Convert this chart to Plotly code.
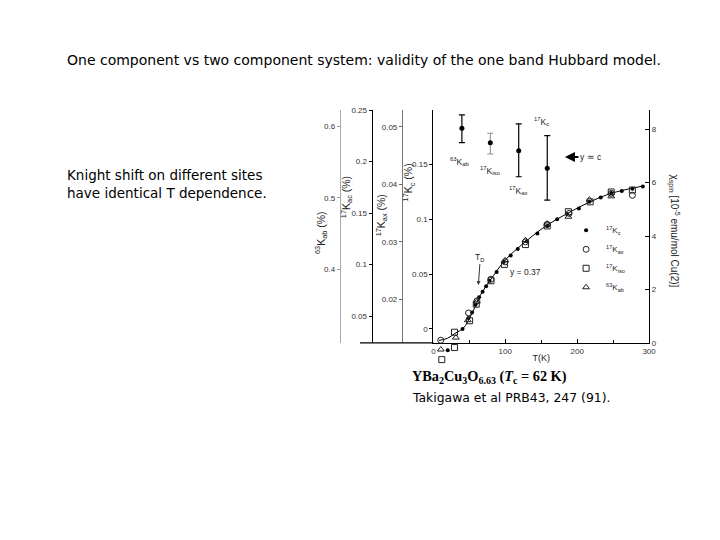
import plotly.graph_objects as go

W, H = 720, 540
# screen position -> figure pixel mapping measured from earlier renders of the page
SHIFT, SCALE = 12.0, 0.982

# ---------------- data (Kc-axis units) ----------------
curve_T = [7.8, 19.6, 30.3, 42.1, 51.3, 60.6, 65.5, 79.2, 100.2, 130.7, 158.4, 186.8, 214.7, 247.2, 291.4]
curve_K = [-0.0105, -0.0085, -0.004, 0.001, 0.011, 0.024, 0.031, 0.0445, 0.063, 0.081,
           0.0948, 0.1055, 0.115, 0.1237, 0.1304]

kc_T = [20, 40.6, 48.9, 53.8, 58.7, 63.6, 68.5, 73.4, 78.2, 88, 97.8, 107.6, 117.4, 130.1,
        144.7, 158.4, 172.1, 185.8, 202.4, 217.1, 232.8, 247.4, 262.1, 276.8, 291.4]
kc_K = [-0.0195, 0.0, 0.010, 0.015, 0.022, 0.029, 0.034, 0.039, 0.044, 0.052, 0.061,
        0.067, 0.073, 0.080, 0.087, 0.094, 0.100, 0.105, 0.110, 0.116, 0.120, 0.124,
        0.126, 0.128, 0.130]

kax_T = [10.3, 48.9, 60.6, 80.2, 99.8, 128.1, 158.4, 188.8, 247.4, 276.8]
kax_K = [-0.0103, 0.0146, 0.0256, 0.0454, 0.0612, 0.0795, 0.0954, 0.1055, 0.1237, 0.122]

kiso_T = [11.7, 29.4, 29.4, 50.4, 59.7, 80.2, 98.8, 128.1, 158.4, 187.8, 218.1, 247.4, 276.8]
kiso_K = [-0.028, -0.003, -0.017, 0.0075, 0.0226, 0.044, 0.0589, 0.077, 0.094, 0.107,
          0.116, 0.125, 0.1268]

kab_T = [10.4, 31.3, 47.9, 60.6, 99.8, 128.1, 158.4, 187.8, 217.1, 247.4]
kab_K = [-0.0188, -0.0079, 0.008, 0.025, 0.0627, 0.081, 0.096, 0.1024, 0.118, 0.121]

err_T = [39.7, 118.7, 158.4]
err_K = [0.1832, 0.1627, 0.1466]
err_plus = [0.0121, 0.0244, 0.0298]
err_minus = [0.0132, 0.0238, 0.029]

err2_T = [79.2]
err2_K = [0.170]
err2_plus = [0.0086]
err2_minus = [0.0103]

x_ticks = [0, 100, 200, 300]
kc_ticks = [0, 0.05, 0.1, 0.15, 0.2]
kc_labels = ["0", "0.05", "0.1", "0.15", "0.2"]
chi_ticks = [0, 2, 4, 6, 8]
kax_ticks = [0.02, 0.03, 0.04, 0.05]
kac_ticks = [0.05, 0.1, 0.15, 0.2, 0.25]
kab_ticks = [0.4, 0.5, 0.6]

# ---------------- layout geometry (screen pixels -> paper) ----------------
def px(x):
    return ((x - SHIFT) / SCALE) / W

def py(y):
    return 1 - ((y - SHIFT) / SCALE) / H

x_dom = [px(433), px(647.5)]
y_dom = [py(342.5), py(110)]
y_dom_ext = [py(362), py(110)]   # same scale, extended below the frame for low-T points

TICKFONT = dict(family="Liberation Sans", size=8, color="#333")
TITLEFONT = dict(family="Liberation Sans", size=10.5, color="#222")

fig = go.Figure()

fig.add_trace(go.Scatter(x=curve_T, y=curve_K, mode="lines", line=dict(color="black", width=1, shape="spline"),
                         showlegend=False, hoverinfo="skip"))
fig.add_trace(go.Scatter(x=err_T, y=err_K, mode="markers", showlegend=False,
                         marker=dict(symbol="circle", size=5, color="black"),
                         error_y=dict(type="data", array=err_plus, arrayminus=err_minus,
                                      color="black", thickness=1.2, width=3)))
fig.add_trace(go.Scatter(x=err2_T, y=err2_K, mode="markers", showlegend=False,
                         marker=dict(symbol="circle", size=5, color="black"),
                         error_y=dict(type="data", array=err2_plus, arrayminus=err2_minus,
                                      color="#888", thickness=1, width=3)))

fig.add_trace(go.Scatter(x=kc_T, y=kc_K, mode="markers", name="<sup>17</sup>K<sub>c</sub>", yaxis="y6",
                         marker=dict(symbol="circle", size=4, color="black"), cliponaxis=False))
fig.add_trace(go.Scatter(x=kax_T, y=kax_K, mode="markers", name="<sup>17</sup>K<sub>ax</sub>", yaxis="y6",
                         marker=dict(symbol="circle-open", size=6, color="#222", line=dict(width=1)),
                         cliponaxis=False))
fig.add_trace(go.Scatter(x=kiso_T, y=kiso_K, mode="markers", name="<sup>17</sup>K<sub>iso</sub>", yaxis="y6",
                         marker=dict(symbol="square-open", size=6, color="#222", line=dict(width=1)),
                         cliponaxis=False))
fig.add_trace(go.Scatter(x=kab_T, y=kab_K, mode="markers", name="<sup>63</sup>K<sub>ab</sub>", yaxis="y6",
                         marker=dict(symbol="triangle-up-open", size=6, color="#222", line=dict(width=1)),
                         cliponaxis=False))

# dummy traces so the extra axes are drawn
for ax in ["y2", "y3", "y4", "y5"]:
    fig.add_trace(go.Scatter(x=[None], y=[None], yaxis=ax, showlegend=False, hoverinfo="skip"))

fig.update_layout(
    width=W, height=H,
    margin=dict(l=0, r=0, t=0, b=0),
    paper_bgcolor="white", plot_bgcolor="rgba(0,0,0,0)",
    font=dict(family="Liberation Sans", color="#222"),
    xaxis=dict(domain=x_dom, range=[0, 300], tickvals=x_ticks, ticks="inside", ticklen=4,
               tickcolor="black", showline=True, linecolor="black", linewidth=1.2,
               showgrid=False, zeroline=False, tickfont=TICKFONT,
               minor=dict(dtick=50, ticks="inside", ticklen=3, tickcolor="black"),
               title=dict(text="T(K)", font=dict(family="Liberation Sans", size=9, color="#222"),
                          standoff=0)),
    yaxis=dict(domain=y_dom, range=[-0.0128, 0.1997], tickvals=kc_ticks, ticktext=kc_labels,
               ticks="outside", ticklen=3, tickcolor="black", showline=True, linecolor="black",
               linewidth=1.2, showgrid=False, zeroline=False, tickfont=TICKFONT),
    yaxis6=dict(domain=y_dom_ext, range=[-0.0306, 0.1997], anchor="x", visible=False,
                showgrid=False, zeroline=False),
    yaxis2=dict(overlaying="y", side="right", range=[0, 8.71], tickvals=chi_ticks,
                ticks="inside", ticklen=4, tickcolor="black", showline=True, linecolor="black",
                linewidth=1.2, showgrid=False, zeroline=False, tickfont=TICKFONT),
    yaxis3=dict(overlaying="y", side="left", anchor="free", position=px(401.7),
                range=[0.01239, 0.05293], tickvals=kax_ticks, ticks="outside", ticklen=3,
                tickcolor="#666", showline=True, linecolor="#777", linewidth=1, showgrid=False,
                zeroline=False, tickfont=TICKFONT),
    yaxis4=dict(overlaying="y", side="left", anchor="free", position=px(371.7),
                range=[0.024, 0.25], tickvals=kac_ticks, ticks="outside", ticklen=3,
                tickcolor="black", showline=True, linecolor="black", linewidth=1.3, showgrid=False,
                zeroline=False, tickfont=TICKFONT),
    yaxis5=dict(overlaying="y", side="left", anchor="free", position=px(340),
                range=[0.2975, 0.6223], tickvals=kab_ticks, ticks="outside", ticklen=3,
                tickcolor="#999", showline=True, linecolor="#aaa", linewidth=1, showgrid=False,
                zeroline=False, tickfont=TICKFONT),
    legend=dict(x=px(565), y=py(215.5), xanchor="left", yanchor="top", bgcolor="rgba(0,0,0,0)",
                font=dict(family="Liberation Sans", size=8, color="#222"), itemwidth=30,
                tracegroupgap=0),
)

# bottom baseline extending to the left axes
fig.add_shape(type="line", xref="paper", yref="y domain", x0=px(360), x1=x_dom[0], y0=0, y1=0,
              line=dict(color="black", width=1.2))

ann = []
# slide texts
ann.append(dict(text="One component vs two component system: validity of the one band Hubbard model.",
                x=px(67), y=py(60), xref="paper", yref="paper", xanchor="left", yanchor="middle",
                showarrow=False, font=dict(family="DejaVu Sans", size=14, color="black")))
ann.append(dict(text="Knight shift on different sites<br>have identical T dependence.",
                x=px(67), y=py(184), xref="paper", yref="paper", xanchor="left", yanchor="middle",
                align="left", showarrow=False, font=dict(family="DejaVu Sans", size=13.5, color="black")))
ann.append(dict(text="<b>YBa<sub>2</sub>Cu<sub>3</sub>O<sub>6.63</sub> (<i>T</i><sub>c</sub> = 62 K)</b>",
                x=px(410), y=py(377), xref="paper", yref="paper", xanchor="left", yanchor="middle",
                showarrow=False, font=dict(family="Liberation Serif", size=14.3, color="black")))
ann.append(dict(text="Takigawa et al PRB43, 247 (91).",
                x=px(410), y=py(397), xref="paper", yref="paper", xanchor="left", yanchor="middle",
                showarrow=False, font=dict(family="DejaVu Sans", size=12.4, color="black")))
# axis titles
ann.append(dict(text="χ<sub>spin</sub> [10<sup>-5</sup> emu/mol Cu(2)]", textangle=90,
                x=px(672), y=py(231), xref="paper", yref="paper", xanchor="center", yanchor="middle",
                showarrow=False, font=dict(family="Liberation Sans", size=10, color="#222")))
ann.append(dict(text="<sup>17</sup>K<sub>c</sub> (%)", textangle=-90,
                x=px(409), y=py(182), xref="paper", yref="paper", xanchor="center", yanchor="middle",
                showarrow=False, font=TITLEFONT))
ann.append(dict(text="<sup>17</sup>K<sub>ax</sub> (%)", textangle=-90,
                x=px(382), y=py(215), xref="paper", yref="paper", xanchor="center", yanchor="middle",
                showarrow=False, font=TITLEFONT))
ann.append(dict(text="<sup>17</sup>K<sub>ac</sub> (%)", textangle=-90,
                x=px(347), y=py(197), xref="paper", yref="paper", xanchor="center", yanchor="middle",
                showarrow=False, font=TITLEFONT))
ann.append(dict(text="<sup>63</sup>K<sub>ab</sub> (%)", textangle=-90,
                x=px(322), y=py(232), xref="paper", yref="paper", xanchor="center", yanchor="middle",
                showarrow=False, font=TITLEFONT))
# in-plot labels
lab = dict(family="Liberation Sans", size=8.5, color="#222")
ann.append(dict(text="<sup>63</sup>K<sub>ab</sub>", x=37, y=0.1527, xref="x", yref="y", showarrow=False, font=lab))
ann.append(dict(text="<sup>17</sup>K<sub>iso</sub>", x=80, y=0.145, xref="x", yref="y", showarrow=False, font=lab))
ann.append(dict(text="<sup>17</sup>K<sub>ax</sub>", x=118, y=0.126, xref="x", yref="y", showarrow=False, font=lab))
ann.append(dict(text="<sup>17</sup>K<sub>c</sub>", x=150, y=0.189, xref="x", yref="y", showarrow=False, font=lab))
ann.append(dict(text="y ≃ c", x=183, y=0.157, xref="x", yref="y", showarrow=True, ax=26, ay=0,
                arrowhead=2, arrowsize=1, arrowwidth=2, arrowcolor="black", font=lab))
ann.append(dict(text="T<sub>D</sub>", x=62.6, y=0.040, xref="x", yref="y", showarrow=True, ax=2, ay=-28,
                arrowhead=2, arrowsize=0.8, arrowwidth=1, arrowcolor="#333", font=lab))
ann.append(dict(text="y = 0.37", x=128, y=0.052, xref="x", yref="y", showarrow=False, font=lab))

fig.update_layout(annotations=ann)

fig.write_html("out.html")
